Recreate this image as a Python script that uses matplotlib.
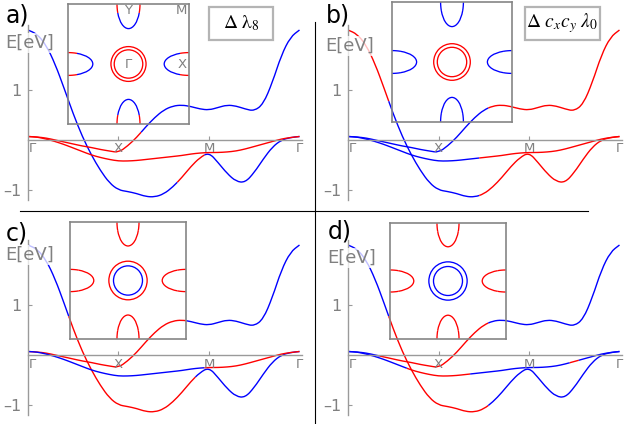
import matplotlib
matplotlib.use('Agg')
import matplotlib.pyplot as plt
from matplotlib.lines import Line2D
from matplotlib.path import Path
from matplotlib.patches import Arc, Circle, PathPatch, Rectangle

plt.rcParams['mathtext.fontset'] = 'stix'

W, H = 624, 424
RED = '#ff0000'
BLUE = '#0000ff'
GRAY = '#808080'
CMAP = {'r': RED, 'b': BLUE}

# band structure along Gamma-X-M-Gamma (k in segment units, E in eV)
K_PATH = [0.0, 0.1, 0.2, 0.3, 0.4, 0.5, 0.6, 0.7, 0.8, 0.9,
          1.0, 1.1, 1.2, 1.3, 1.4, 1.5, 1.6, 1.7, 1.8, 1.9,
          2.0, 2.1, 2.2, 2.3, 2.4, 2.5, 2.6, 2.7, 2.8, 2.9, 3.0]
BAND_1 = [2.20, 2.12, 1.90, 1.52, 1.03, 0.52, 0.07, -0.30, -0.61, -0.86,
          -1.00, -1.03, -1.07, -1.13, -1.14, -1.08, -0.94, -0.75, -0.53, -0.35,
          -0.25, -0.45, -0.67, -0.83, -0.85, -0.65, -0.38, -0.14, 0.00, 0.05, 0.07]
BAND_2 = [0.07, 0.06, 0.04, 0.00, -0.04, -0.08, -0.12, -0.15, -0.19, -0.22,
          -0.25, -0.12, 0.05, 0.26, 0.45, 0.60, 0.68, 0.70, 0.67, 0.62,
          0.60, 0.65, 0.70, 0.68, 0.62, 0.58, 0.72, 1.15, 1.70, 2.06, 2.20]
BAND_3 = [0.07, 0.06, 0.02, -0.03, -0.09, -0.16, -0.23, -0.30, -0.35, -0.39,
          -0.42, -0.42, -0.41, -0.39, -0.37, -0.35, -0.33, -0.31, -0.28, -0.26,
          -0.25, -0.25, -0.24, -0.22, -0.18, -0.13, -0.08, -0.03, 0.02, 0.05, 0.07]
BANDS = [BAND_1, BAND_2, BAND_3]
K_NODES = [0, 1, 2, 3]
K_LABELS = ['Γ', 'X', 'M', 'Γ']

# colour switches along each band: (break points, colours)
BAND_COLORS = {
    'a': [([0, 1.66, 1.96, 3], 'brb'), ([0, 1.26, 3], 'rb'), ([0, 3], 'r')],
    'b': [([0, 0.46, 1.46, 3], 'rbr'), ([0, 1.56, 3], 'br'), ([0, 1.46, 3], 'br')],
    'c': [([0, 0.44, 1.86, 3], 'brb'), ([0, 1.76, 3], 'rb'), ([0, 1.96, 3], 'br')],
    'd': [([0, 0.44, 1.56, 3], 'brb'), ([0, 0.36, 1.56, 3], 'brb'),
          ([0, 0.66, 1.36, 2.46, 2.56, 3], 'brbrb')],
}

# Fermi surface insets: circle colours (outer, inner), radii, pocket tip / arm colour
FS_CIRCLE_COLORS = {'a': 'rr', 'b': 'rr', 'c': 'rb', 'd': 'bb'}
FS_RADII = {'a': (0.29, 0.236), 'b': (0.305, 0.245), 'c': (0.33, 0.25), 'd': (0.33, 0.25)}
FS_POCKET_TIP = {'a': 'b', 'b': 'b', 'c': 'r', 'd': 'r'}
FS_POCKET_ARM = {'a': 'r', 'b': 'b', 'c': 'r', 'd': 'r'}
POCKET_DEPTH = 0.41
POCKET_HALFWIDTH = 0.19
POCKET_TIP_SPAN = 50

# layout in pixels
ORIGIN = {'a': (28, 140), 'b': (348, 140), 'c': (28, 355), 'd': (348, 355)}
INSET_BOX = {'a': (68, 4, 121, 120), 'b': (392, 2, 120, 120),
             'c': (70, 222, 116, 117), 'd': (390, 223, 116, 116)}
PANEL_TAG = {'a': (6, 23), 'b': (326, 23), 'c': (6, 240), 'd': (328, 239)}
ELABEL_POS = {'a': (5, 43), 'b': (325, 46), 'c': (5, 255), 'd': (327, 258)}
LEGENDS = {'a': ((209, 7, 64, 33), r'$\Delta\ \mathrm{\lambda}_{8}$'),
           'b': ((525, 7, 75, 33), r'$\Delta\ c_{x}c_{y}\ \lambda_{\mathit{0}}$')}
PX_PER_K = 90.5
PX_PER_EV = 50.0
K_MAX = 3.03
E_MIN, E_MAX = -1.2, 2.3


def fx(x):
    return x / W


def fy(y):
    return 1 - y / H


def draw_bands(ax, coloring):
    """Smooth each band (quadratic pieces through segment midpoints), coloured piecewise."""
    for band, (breaks, cols) in zip(BANDS, coloring):
        pts = list(zip(K_PATH, band))
        n = len(pts)
        mids = [((pts[i][0] + pts[i + 1][0]) / 2, (pts[i][1] + pts[i + 1][1]) / 2)
                for i in range(n - 1)]
        pieces = [(pts[0][0], pts[0], [mids[0]], [Path.LINETO])]
        for i in range(1, n - 1):
            pieces.append((pts[i][0], mids[i - 1], [pts[i], mids[i]],
                           [Path.CURVE3, Path.CURVE3]))
        pieces.append((pts[-1][0], mids[-1], [pts[-1]], [Path.LINETO]))

        def colour_of(k):
            return cols[sum(1 for b in breaks[1:-1] if b < k)]

        run_col, verts, codes = None, [], []
        for k, start, v, c in pieces:
            col = colour_of(k)
            if col != run_col:
                if verts:
                    ax.add_patch(PathPatch(Path(verts, codes), fill=False,
                                           ec=CMAP[run_col], lw=1.0, capstyle='butt'))
                run_col, verts, codes = col, [start], [Path.MOVETO]
            verts += v
            codes += c
        ax.add_patch(PathPatch(Path(verts, codes), fill=False,
                               ec=CMAP[run_col], lw=1.0, capstyle='butt'))


def draw_fermi(ax, key):
    for r, c in zip(FS_RADII[key], FS_CIRCLE_COLORS[key]):
        ax.add_patch(Circle((0, 0), r, fill=False, ec=CMAP[c], lw=0.95))
    tip, arm = CMAP[FS_POCKET_TIP[key]], CMAP[FS_POCKET_ARM[key]]
    pockets = [((1, 0), 180, True), ((-1, 0), 0, True),
               ((0, 1), 270, False), ((0, -1), 90, False)]
    for centre, phi, horiz in pockets:
        w, h = ((2 * POCKET_DEPTH, 2 * POCKET_HALFWIDTH) if horiz
                else (2 * POCKET_HALFWIDTH, 2 * POCKET_DEPTH))
        s = POCKET_TIP_SPAN
        for t1, t2, col in [(phi - 90, phi - s, arm), (phi - s, phi + s, tip),
                            (phi + s, phi + 90, arm)]:
            ax.add_patch(Arc(centre, w, h, theta1=t1, theta2=t2, color=col, lw=0.95))


fig = plt.figure(figsize=(W / 100, H / 100), dpi=100)

for key in ['a', 'b', 'c', 'd']:
    x0, y0 = ORIGIN[key]
    left, right = x0, x0 + K_MAX * PX_PER_K
    top, bottom = y0 - E_MAX * PX_PER_EV, y0 - E_MIN * PX_PER_EV
    ax = fig.add_axes([fx(left), fy(bottom), fx(right - left), (bottom - top) / H])
    ax.set_xlim(0, K_MAX)
    ax.set_ylim(E_MIN, E_MAX)
    ax.patch.set_alpha(0)
    for s in ['top', 'right']:
        ax.spines[s].set_visible(False)
    ax.spines['bottom'].set_position(('data', 0))
    for s in ['left', 'bottom']:
        ax.spines[s].set_color('#9a9a9a')
        ax.spines[s].set_linewidth(1.0)
    ax.set_xticks([1, 2])
    ax.set_xticklabels([])
    ax.set_yticks([-1, 1])
    ax.set_yticklabels(['\u20131', '1'])
    ax.tick_params(axis='both', direction='in', length=3, color='#9a9a9a',
                   labelcolor=GRAY, labelsize=11.5, pad=4.5)
    for k, lab in zip(K_NODES, K_LABELS):
        ax.text(k + (0.045 if k == 0 else 0), -0.05, lab, ha='center', va='top',
                color=GRAY, fontsize=9.5)
    draw_bands(ax, BAND_COLORS[key])

    bx, by, bw, bh = INSET_BOX[key]
    ins = fig.add_axes([fx(bx), fy(by + bh), bw / W, bh / H])
    ins.set_xlim(-1, 1)
    ins.set_ylim(-1, 1)
    ins.patch.set_alpha(0)
    ins.set_xticks([])
    ins.set_yticks([])
    for s in ins.spines.values():
        s.set_color('#858585')
        s.set_linewidth(1.2)
    draw_fermi(ins, key)
    if key == 'a':
        for (px, py), lab in [((0, 0.9), 'Y'), ((0.88, 0.9), 'M'),
                              ((0.88, 0), 'X'), ((0, 0), 'Γ')]:
            ins.text(px, py, lab, ha='center', va='center', color=GRAY, fontsize=9.5)

    tx, ty = PANEL_TAG[key]
    fig.text(fx(tx), fy(ty), key + ')', fontsize=17, color='black', va='baseline')
    ex, ey = ELABEL_POS[key]
    fig.text(fx(ex), fy(ey), 'E[eV]', fontsize=13, color=GRAY, va='center',
             bbox=dict(facecolor='white', alpha=0.75, edgecolor='none', pad=0.5))

for key, ((lx, ly, lw_, lh), txt) in LEGENDS.items():
    fig.add_artist(Rectangle((fx(lx), fy(ly + lh)), lw_ / W, lh / H,
                             transform=fig.transFigure, facecolor='white',
                             edgecolor='#b4b4b4', lw=1.6))
    fig.text(fx(lx + lw_ / 2), fy(ly + lh / 2), txt, ha='center', va='center',
             fontsize=14, color='black')

fig.add_artist(Line2D([fx(20), fx(588)], [fy(211), fy(211)], color='black', lw=0.8))
fig.add_artist(Line2D([fx(315), fx(315)], [fy(22), fy(424)], color='black', lw=0.8))

fig.savefig('out.png', dpi=100)
